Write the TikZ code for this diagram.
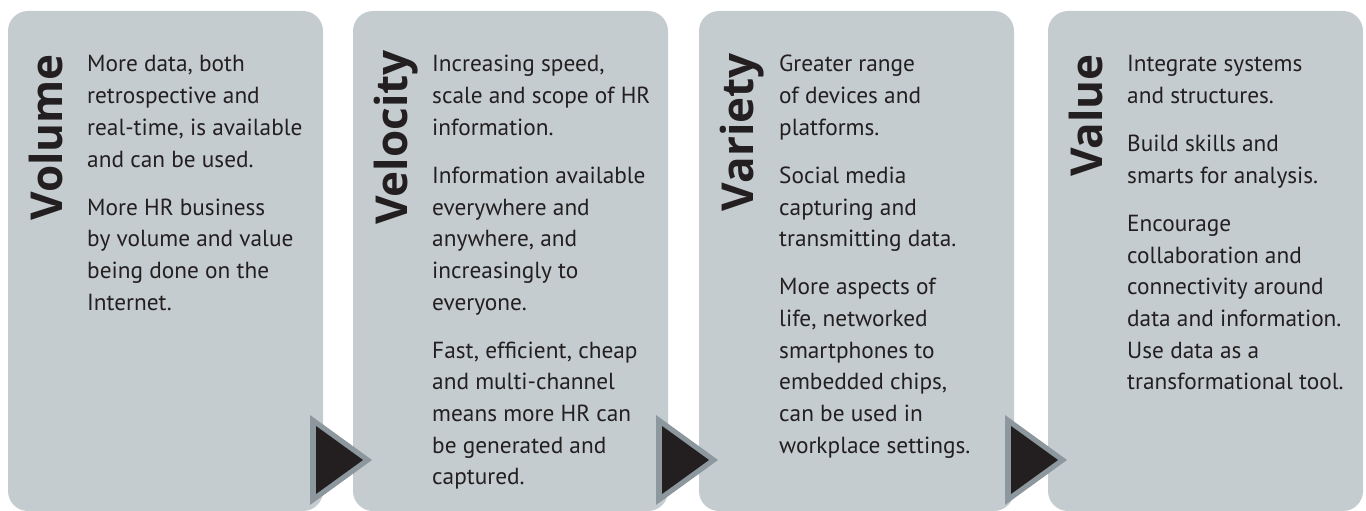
\documentclass[tikz,border=0pt]{standalone}
\usepackage{fontspec}
\setmainfont{PT Sans}
\newfontfamily\ttlfont{Open Sans}
\definecolor{panelgray}{HTML}{C5CCD0}
\definecolor{tribord}{HTML}{8D979E}
\definecolor{ink}{HTML}{231F20}
\tikzset{
  panel/.style={fill=panelgray, draw=none, rounded corners=20pt},
  ttl/.style={rotate=90, anchor=base east, inner sep=0pt, text=ink, font=\ttlfont\bfseries\fontsize{44}{44}\selectfont},
  body/.style={anchor=base west, inner sep=0pt, text=ink, font=\fontsize{23.3}{31.7}\selectfont},
}
\newcommand{\bodytext}[1]{\parbox[t]{300pt}{\raggedright #1}}
\begin{document}
\begin{tikzpicture}[x=1pt,y=-1pt]
\useasboundingbox (0,0) rectangle (1366,511);
% panels
\foreach \px/\nm in {8/p1,353/p2,699/p3,1048/p4}{
  \path[panel] (\px,11) rectangle ++(315,500);
}
% triangles
\foreach \ax/\nm in {372/t1,718/t2,1067/t3}{
  \fill[tribord] (\ax-62,415) -- (\ax-62,505) -- (\ax,460) -- cycle;
  \fill[ink] (\ax-56,426) -- (\ax-56,494) -- (\ax-9,460) -- cycle;
}
% titles
\node[ttl] (h1) at (62,54) {Volume};
\node[ttl] (h2) at (407,50) {Velocity};
\node[ttl] (h3) at (753,53) {Variety};
\node[ttl] (h4) at (1102,54) {Value};
% body texts
\node[body] (b1) at (87,72) {\bodytext{More data, both\\retrospective and\\real-time, is available\\and can be used.\\[16.3pt]More HR business\\by volume and value\\being done on the\\Internet.}};
\node[body] (b2) at (432,72) {\bodytext{Increasing speed,\\scale and scope of HR\\information.\\[16.3pt]Information available\\everywhere and\\anywhere, and\\increasingly to\\everyone.\\[16.3pt]Fast, efficient, cheap\\and multi-channel\\means more HR can\\be generated and\\captured.}};
\node[body] (b3) at (779,72) {\bodytext{Greater range\\of devices and\\platforms.\\[16.3pt]Social media\\capturing and\\transmitting data.\\[16.3pt]More aspects of\\life, networked\\smartphones to\\embedded chips,\\can be used in\\workplace settings.}};
\node[body] (b4) at (1127,72) {\bodytext{Integrate systems\\and structures.\\[16.3pt]Build skills and\\smarts for analysis.\\[16.3pt]Encourage\\collaboration and\\connectivity around\\data and information.\\Use data as a\\transformational tool.}};
\end{tikzpicture}
\end{document}
